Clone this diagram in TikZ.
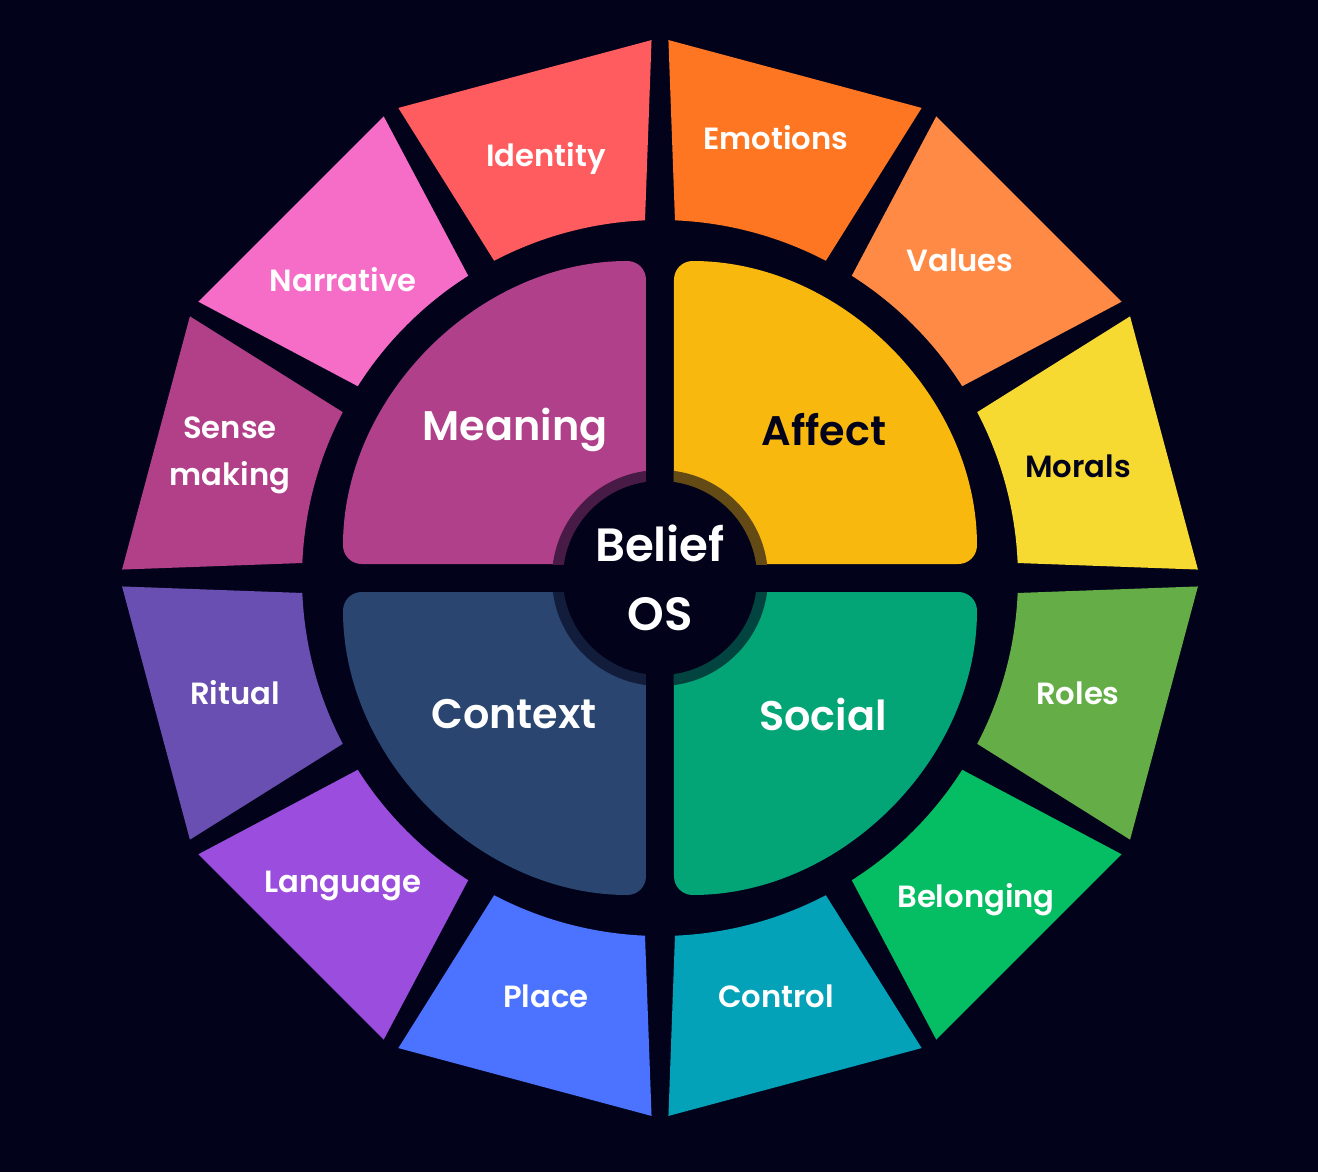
\documentclass[tikz,border=0pt]{standalone}
\usepackage{fontspec}
\setmainfont{Poppins}[BoldFont={Poppins SemiBold}]
\definecolor{Night}{HTML}{02031A}
\definecolor{IdentityC}{HTML}{FF5C60}
\definecolor{EmotionsC}{HTML}{FF7622}
\definecolor{ValuesC}{HTML}{FF8A45}
\definecolor{MoralsC}{HTML}{F6DA32}
\definecolor{RolesC}{HTML}{64AD47}
\definecolor{BelongingC}{HTML}{05BE64}
\definecolor{ControlC}{HTML}{03A2B8}
\definecolor{PlaceC}{HTML}{4B73FF}
\definecolor{LanguageC}{HTML}{9B4EDD}
\definecolor{RitualC}{HTML}{6A4FB2}
\definecolor{SenseC}{HTML}{B24089}
\definecolor{NarrativeC}{HTML}{F66DC8}
\definecolor{MeaningC}{HTML}{B0408A}
\definecolor{AffectC}{HTML}{F8B80D}
\definecolor{ContextC}{HTML}{294570}
\definecolor{SocialC}{HTML}{03A576}

\begin{document}
\begin{tikzpicture}[
    x=0.75pt,y=0.75pt,
    petal/.style={font=\fontsize{23}{35}\selectfont\bfseries, text=white,
      align=center, inner sep=0pt},
    quarter/.style={fill=#1, rounded corners=14pt},
    quarterlabel/.style={font=\fontsize{31}{36}\selectfont\bfseries,
      text=white, inner sep=0pt},
    hub/.style={circle, fill=Night, minimum size=145.5pt, inner sep=0pt,
      text=white, align=center, font=\fontsize{35}{52}\selectfont\bfseries}
  ]
    \useasboundingbox (-660,-594) rectangle (658,578);
    \fill[Night] (-660,-594) rectangle (658,578);

    % outer ring, twelve pieces
    \foreach \a/\col in {0/MoralsC, 30/ValuesC, 60/EmotionsC, 90/IdentityC,
        120/NarrativeC, 150/SenseC, 180/RitualC, 210/LanguageC,
        240/PlaceC, 270/ControlC, 300/BelongingC, 330/RolesC}
      \fill[\col] (\a+0.9:538) -- (\a+29.1:538) -- (\a+27.6:358)
        arc[start angle=\a+27.6, end angle=\a+2.4, radius=358] -- cycle;

    % four quarters
    \fill[quarter=MeaningC] (-14,14) -- (-317,14)
      arc[start angle=180, end angle=90, radius=303] -- cycle;
    \fill[quarter=AffectC] (14,14) -- (14,317)
      arc[start angle=90, end angle=0, radius=303] -- cycle;
    \fill[quarter=ContextC] (-14,-14) -- (-14,-317)
      arc[start angle=270, end angle=180, radius=303] -- cycle;
    \fill[quarter=SocialC] (14,-14) -- (317,-14)
      arc[start angle=0, end angle=-90, radius=303] -- cycle;

    % halo round the hub
    \foreach \sx/\sy/\col in {1/1/AffectC, -1/1/MeaningC,
        -1/-1/ContextC, 1/-1/SocialC} {
      \begin{scope}
        \clip (14*\sx,14*\sy) rectangle (130*\sx,130*\sy);
        \fill[\col!40!Night] (0,0) circle (108);
      \end{scope}
    }

    \node[hub] (hub) at (0,0) {Belief\\OS};

    \node[quarterlabel] (meaning) at (-145,148) {Meaning};
    \node[quarterlabel, text=Night] (affect) at (164,148) {Affect};
    \node[quarterlabel] (context) at (-146,-136) {Context};
    \node[quarterlabel] (social) at (163,-136) {Social};

    \node[petal] (identity) at (-114,420) {Identity};
    \node[petal] (emotions) at (116,440) {Emotions};
    \node[petal] (values) at (300,318) {Values};
    \node[petal, text=Night] (morals) at (418,112) {Morals};
    \node[petal] (roles) at (418,-115) {Roles};
    \node[petal] (belonging) at (316,-322) {Belonging};
    \node[petal] (control) at (116,-418) {Control};
    \node[petal] (place) at (-114,-418) {Place};
    \node[petal] (language) at (-317,-308) {Language};
    \node[petal] (ritual) at (-425,-115) {Ritual};
    \node[petal] (sense) at (-430,123) {Sense\\making};
    \node[petal] (narrative) at (-317,298) {Narrative};
  \end{tikzpicture}
\end{document}
